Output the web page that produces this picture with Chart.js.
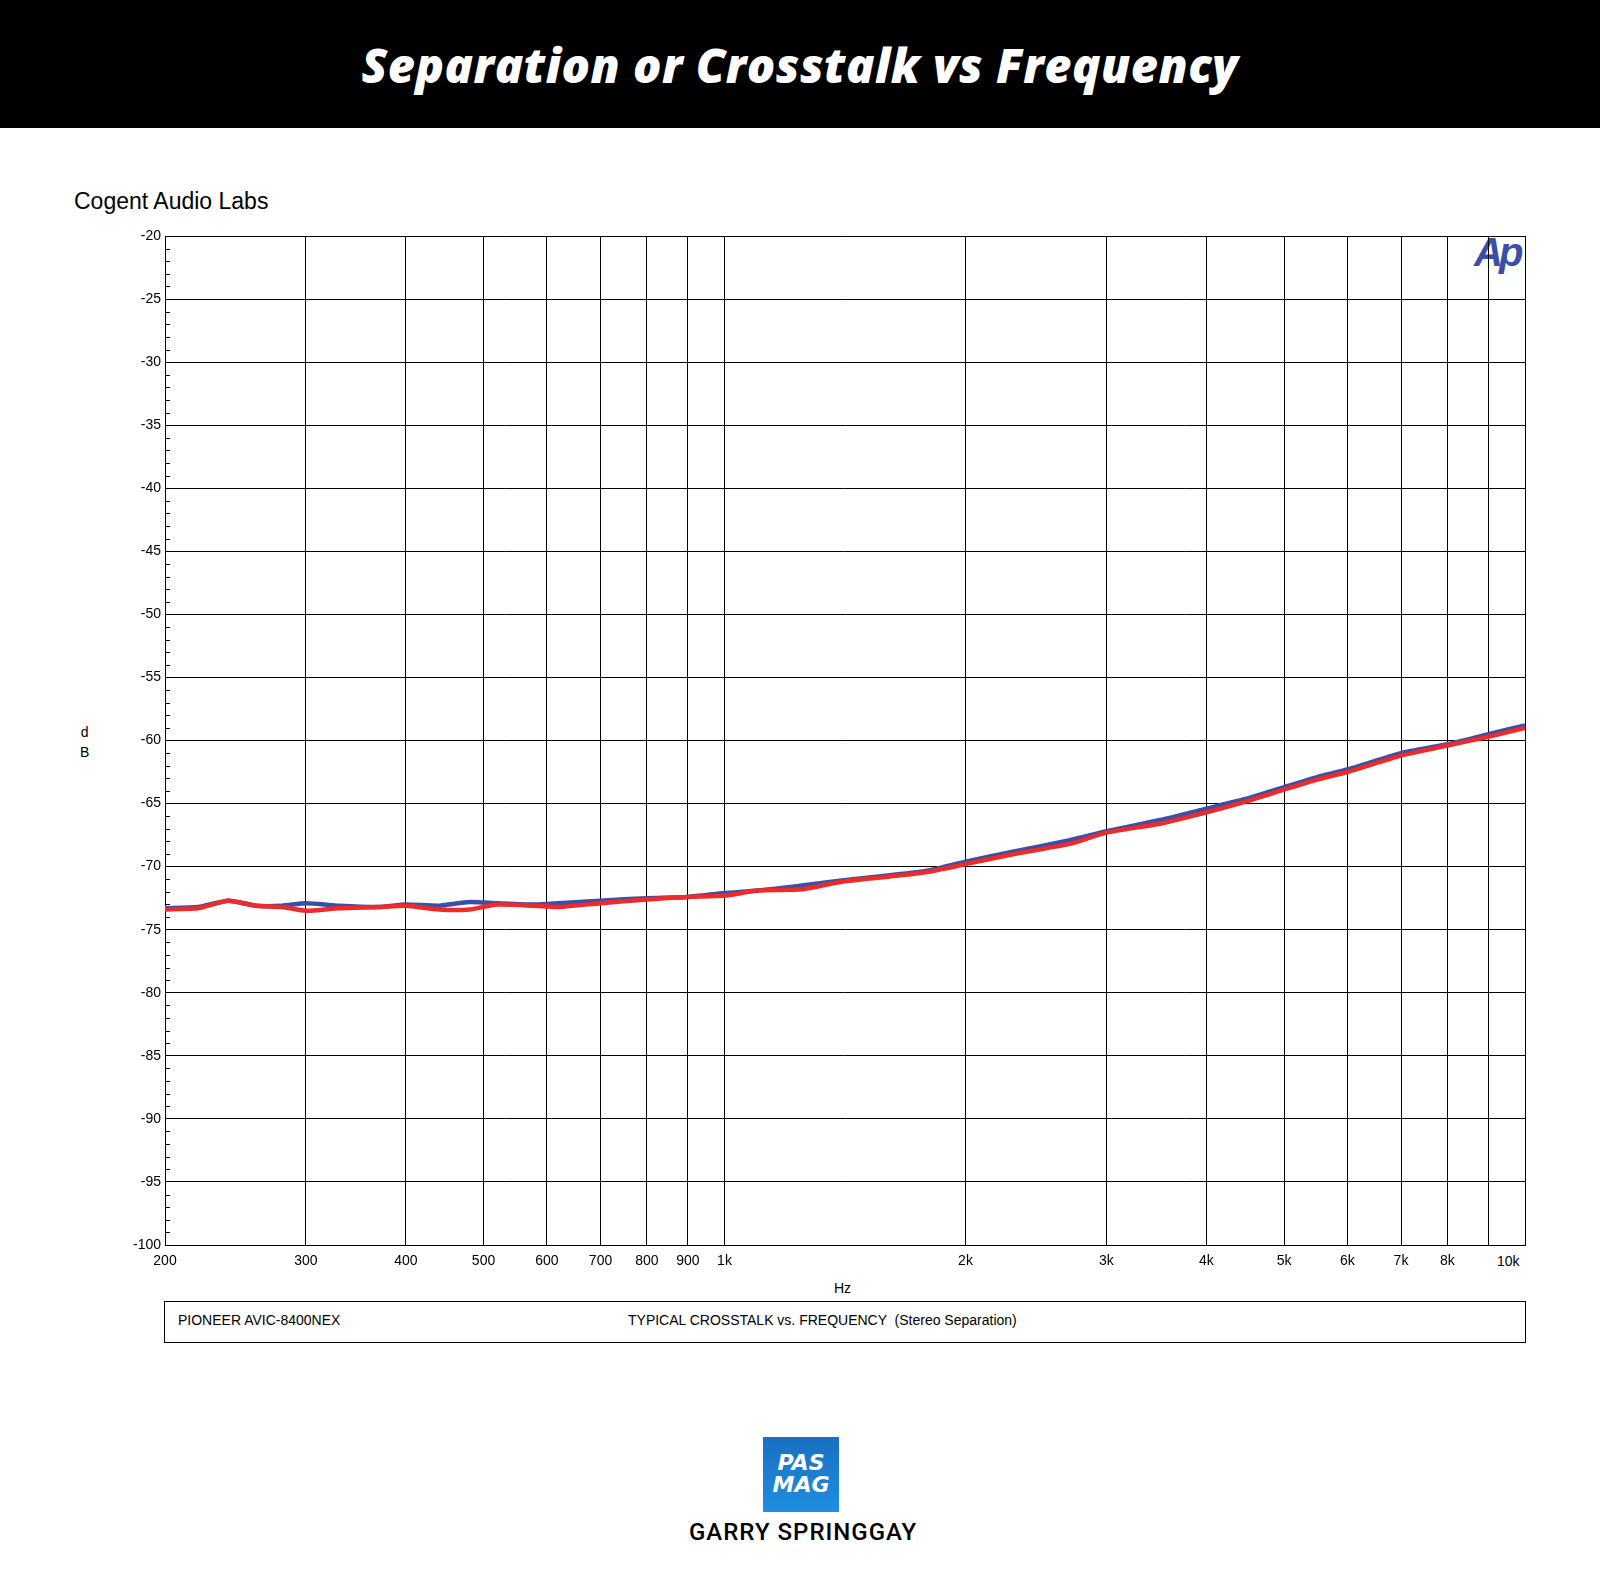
<!DOCTYPE html>
<html><head><meta charset="utf-8">
<script src="https://cdn.jsdelivr.net/npm/chart.js@4/dist/chart.umd.min.js"></script>
<style>
body{margin:0;width:1600px;height:1569px;background:#fff;position:relative;overflow:hidden;font-family:"Liberation Sans",Arial,sans-serif}
#hdr{position:absolute;left:0;top:0;width:1600px;height:128px;background:#000;color:#fff;font:italic 900 47px "Open Sans","DejaVu Sans",sans-serif;text-align:center;line-height:130px;letter-spacing:0.5px}
.t{position:absolute;white-space:nowrap}
canvas{position:absolute;left:0;top:0}
</style></head><body>
<div id="hdr">Separation or Crosstalk vs Frequency</div>
<div class="t" style="left:74px;top:188px;font-size:23px">Cogent Audio Labs</div>
<div class="t" style="left:80px;top:722px;font-size:14px;text-align:center;line-height:20px">d<br>B</div>
<div class="t" style="left:834px;top:1280px;font-size:14px">Hz</div>
<div class="t" style="left:1497px;top:1253px;font-size:14px">10k</div>
<div class="t" style="left:164px;top:1301px;width:1360px;height:40px;border:1px solid #000"></div>
<div class="t" style="left:178px;top:1312px;font-size:14px">PIONEER AVIC-8400NEX</div>
<div class="t" style="left:628px;top:1312px;font-size:14px">TYPICAL CROSSTALK vs. FREQUENCY &nbsp;(Stereo Separation)</div>
<div class="t" style="left:1474px;top:230px;font:italic bold 40px 'Liberation Sans',sans-serif;color:#3a4fa8;letter-spacing:-4px">Ap</div>
<div class="t" style="left:763px;top:1437px;width:76px;height:75px;background:linear-gradient(#1a6fc0,#1e8fe0);color:#fff;font:italic 900 22px 'DejaVu Sans',sans-serif;text-align:center;line-height:22px;padding-top:15px;box-sizing:border-box">PAS<br>MAG</div>
<div class="t" style="left:689px;top:1518px;width:224px;text-align:center;font:500 24px Roboto,sans-serif;letter-spacing:1px">GARRY SPRINGGAY</div>
<canvas id="c" width="1600" height="1569"></canvas>
<script>
const freqs=[200,220,240,260,280,300,330,370,400,440,480,520,580,620,700,800,900,1000,1100,1250,1400,1600,1800,2000,2300,2700,3000,3500,4000,4500,5000,5500,6000,7000,8000,9000,10000];
const blue=[-73.3,-73.2,-72.7,-73.1,-73.1,-72.9,-73.1,-73.2,-73.0,-73.1,-72.8,-72.9,-73.0,-72.9,-72.7,-72.5,-72.4,-72.1,-71.9,-71.5,-71.1,-70.7,-70.3,-69.6,-68.8,-67.9,-67.2,-66.3,-65.4,-64.6,-63.7,-62.9,-62.3,-61.0,-60.3,-59.5,-58.8];
const red=[-73.4,-73.3,-72.7,-73.1,-73.2,-73.5,-73.3,-73.2,-73.1,-73.4,-73.4,-73.0,-73.1,-73.2,-72.9,-72.6,-72.4,-72.3,-71.9,-71.8,-71.2,-70.8,-70.4,-69.8,-69.0,-68.2,-67.3,-66.6,-65.7,-64.8,-63.9,-63.1,-62.5,-61.2,-60.4,-59.7,-59.0];
const xTicks=[200,300,400,500,600,700,800,900,1000,2000,3000,4000,5000,6000,7000,8000,9000,10000];
const xLabels=['200','300','400','500','600','700','800','900','1k','2k','3k','4k','5k','6k','7k','8k','',''];
const minor={id:'minor',afterDraw(c){const y=c.scales.y,x=c.chartArea,g=c.ctx;g.save();g.strokeStyle='#000';g.lineWidth=1;g.beginPath();
for(let v=-100;v<=-20;v++){const p=Math.round(y.getPixelForValue(v))+0.5;if(v%5!==0){g.moveTo(x.left,p);g.lineTo(x.left+5,p);}}g.stroke();g.restore();}};
new Chart(document.getElementById('c'),{type:'line',
data:{labels:freqs,datasets:[
{data:freqs.map((f,i)=>({x:f,y:blue[i]})),borderColor:'#3a4fa8',borderWidth:4.5,pointRadius:0,tension:0.2},
{data:freqs.map((f,i)=>({x:f,y:red[i]})),borderColor:'#ee2a2a',borderWidth:4.5,pointRadius:0,tension:0.2}].reverse()},
options:{responsive:false,animation:false,events:[],
layout:{padding:{left:0,top:236,right:75,bottom:0}},
plugins:{legend:{display:false},tooltip:{enabled:false}},
scales:{
x:{type:'logarithmic',min:200,max:10000,
afterBuildTicks:s=>{s.ticks=xTicks.map(v=>({value:v}));},
afterFit:s=>{s.height=324;},
grid:{color:'#000',lineWidth:1,drawTicks:false},border:{color:'#000',width:1},
ticks:{autoSkip:false,maxRotation:0,padding:8,color:'#000',font:{size:14,family:'Liberation Sans'},callback:(v,i)=>xLabels[i]}},
y:{min:-100,max:-20,afterFit:s=>{s.width=165;},
afterBuildTicks:s=>{const t=[];for(let v=-100;v<=-20;v+=5)t.push({value:v});s.ticks=t;},
grid:{color:'#000',lineWidth:1,drawTicks:false},border:{color:'#000',width:1},
ticks:{padding:4,color:'#000',font:{size:14,family:'Liberation Sans'}}}}},
plugins:[minor]});
</script></body></html>
